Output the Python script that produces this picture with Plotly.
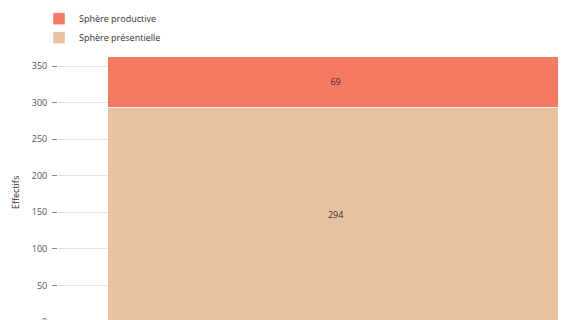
import plotly.graph_objects as go

categories = [""]
productive = [69]
presentielle = [294]

col_prod = "#f47a64"
col_pres = "#e8c1a0"

fig = go.Figure()
fig.add_trace(go.Bar(
    x=categories, y=presentielle, name="Sphère présentielle",
    marker=dict(color=col_pres, line=dict(color="rgba(255,255,255,0.5)", width=1)),
    text=[str(v) for v in presentielle], textposition="inside", insidetextanchor="middle",
    textfont=dict(color="#333", size=9), width=0.82,
))
fig.add_trace(go.Bar(
    x=categories, y=productive, name="Sphère productive",
    marker=dict(color=col_prod, line=dict(color="rgba(255,255,255,0.5)", width=1)),
    text=[str(v) for v in productive], textposition="inside", insidetextanchor="middle",
    textfont=dict(color="#333", size=9), width=0.82,
))

# the page body adds an 8px margin, so positions below are shifted by -8px
fig.update_layout(
    barmode="stack",
    width=566, height=320,
    margin=dict(l=50, r=8, t=42, b=0, autoexpand=False),
    paper_bgcolor="white", plot_bgcolor="white",
    font=dict(family="Open Sans", size=9, color="#555"),
    showlegend=True,
    legend=dict(
        xref="container", yref="paper", x=31 / 566, y=1.165,
        xanchor="left", yanchor="top", traceorder="reversed",
        font=dict(size=9, color="#333"), tracegroupgap=2,
    ),
    uniformtext=dict(minsize=8, mode="show"),
    annotations=[dict(
        text="Effectifs", textangle=-90, xref="paper", yref="paper",
        x=-0.0846, y=0.4856, xanchor="center", yanchor="middle",
        showarrow=False, font=dict(size=9, color="#333"),
    )],
)
fig.update_xaxes(range=[-0.5, 0.415], showticklabels=False, showgrid=False,
                 zeroline=False, showline=False)
fig.update_yaxes(
    range=[-8.2, 372], tickvals=[0, 50, 100, 150, 200, 250, 300, 350],
    showgrid=True, gridcolor="#e3e3e3", gridwidth=1, zeroline=False,
    ticks="outside", ticklen=5, tickcolor="#888", showline=False,
    ticklabelstandoff=3, ticklabeloverflow="allow",
)

fig.write_html("out.html")
